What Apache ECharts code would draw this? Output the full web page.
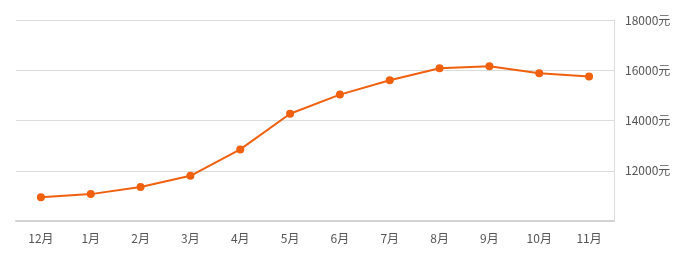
<!DOCTYPE html>
<html>
<head>
<meta charset="utf-8">
<style>html,body{margin:0;padding:0;background:#fff}#c{width:687px;height:257px}</style>
<script src="https://cdn.jsdelivr.net/npm/echarts@6/dist/echarts.min.js"></script>
</head>
<body>
<div id="c"></div>
<script>
var categories = ['12月','1月','2月','3月','4月','5月','6月','7月','8月','9月','10月','11月'];
var prices = [10950, 11070, 11350, 11800, 12850, 14270, 15030, 15600, 16080, 16160, 15880, 15750];
var yMin = 10000, yMax = 18000, yStep = 2000;

var chart = echarts.init(document.getElementById('c'));
chart.setOption({
  animation: false,
  grid: {left: 16, right: 73, top: 20, bottom: 36},
  xAxis: {
    type: 'category',
    data: categories,
    boundaryGap: true,
    axisLine: {lineStyle: {color: '#d4d4d4', width: 2}},
    axisTick: {alignWithLabel: true, length: 4, lineStyle: {color: '#e8e8e8'}},
    axisLabel: {color: '#555', fontSize: 12, margin: 11, fontFamily: 'Noto Sans CJK SC'}
  },
  yAxis: {
    type: 'value',
    position: 'right',
    min: yMin, max: yMax, interval: yStep,
    axisLine: {show: true, lineStyle: {color: '#dcdcdc'}},
    axisTick: {show: false},
    splitLine: {lineStyle: {color: '#dcdcdc'}},
    axisLabel: {showMinLabel: false, color: '#555', fontSize: 12, margin: 11, fontFamily: 'Noto Sans CJK SC', formatter: function (v) { return String(v) + '元'; }}
  },
  series: [{
    type: 'line',
    data: prices,
    symbol: 'circle',
    symbolSize: 8,
    lineStyle: {color: '#f0600f', width: 2},
    itemStyle: {color: '#f0600f'}
  }]
});
</script>
</body>
</html>
